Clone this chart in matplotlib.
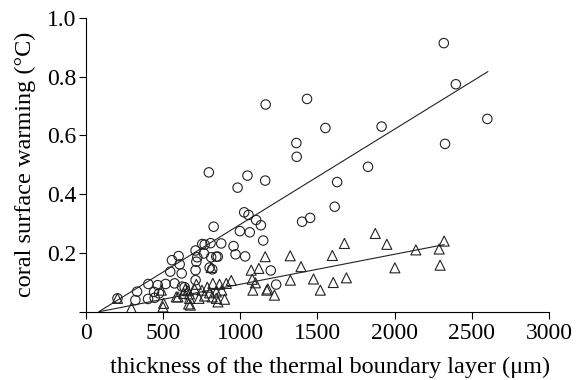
import numpy as np
import matplotlib
matplotlib.use("Agg")
import matplotlib.pyplot as plt

plt.rcParams["font.family"] = ["Liberation Serif", "DejaVu Serif"]

# open circles
circ_x = [205, 321, 332, 403, 405, 442, 446, 466, 474, 517, 547, 558, 575, 601,
          608, 621, 623, 640, 711, 711, 711, 716, 722, 754, 770, 765, 797, 808,
          812, 802, 819, 828, 845, 855, 877, 957, 970, 983, 998, 1032, 1026,
          1047, 1054, 1062, 1103, 1134, 1149, 1162, 1165, 1198, 1233, 1364,
          1366, 1401, 1433, 1453, 1552, 1612, 1628, 1828, 1916, 2319, 2327,
          2397, 2601]
circ_y = [0.045, 0.039, 0.068, 0.043, 0.094, 0.067, 0.047, 0.090, 0.062, 0.094,
          0.136, 0.175, 0.096, 0.189, 0.161, 0.130, 0.085, 0.083, 0.141, 0.107,
          0.208, 0.170, 0.185, 0.230, 0.228, 0.198, 0.474, 0.233, 0.185, 0.150,
          0.144, 0.289, 0.187, 0.187, 0.232, 0.223, 0.195, 0.422, 0.274, 0.188,
          0.338, 0.463, 0.329, 0.270, 0.312, 0.294, 0.242, 0.446, 0.705, 0.140,
          0.092, 0.574, 0.527, 0.306, 0.724, 0.319, 0.625, 0.357, 0.441, 0.493,
          0.630, 0.914, 0.571, 0.774, 0.656]

# open triangles
tri_x = [205, 295, 500, 504, 489, 586, 597, 634, 644, 662, 666, 672, 672, 677,
         705, 716, 733, 752, 769, 787, 802, 812, 819, 823, 845, 845, 856, 866,
         881, 899, 910, 942, 1071, 1078, 1082, 1099, 1121, 1162, 1172, 1179,
         1222, 1324, 1325, 1394, 1475, 1519, 1597, 1603, 1675, 1688, 1875,
         1950, 2002, 2138, 2289, 2295, 2321]
tri_y = [0.045, 0.012, 0.016, 0.028, 0.073, 0.050, 0.050, 0.062, 0.076, 0.071,
         0.026, 0.045, 0.060, 0.022, 0.076, 0.093, 0.045, 0.073, 0.053, 0.083,
         0.064, 0.150, 0.050, 0.096, 0.067, 0.045, 0.033, 0.093, 0.073, 0.042,
         0.096, 0.106, 0.141, 0.110, 0.073, 0.098, 0.147, 0.187, 0.073, 0.077,
         0.056, 0.190, 0.107, 0.153, 0.111, 0.073, 0.191, 0.099, 0.232, 0.115,
         0.266, 0.229, 0.149, 0.210, 0.213, 0.158, 0.240]

# fitted lines: slope, intercept, x range
circ_fit = (0.0003243, -0.0276)
circ_fit_range = (85, 2604)
tri_fit = (0.0001022, -0.0092)
tri_fit_range = (90, 2321)

fig = plt.figure(figsize=(5.76, 3.8), dpi=100)
ax = fig.add_axes([0.149, 0.18, 0.804, 0.773])

ax.scatter(circ_x, circ_y, s=46, facecolors="none", edgecolors="#222222",
           linewidths=0.8, marker="o", zorder=3)
ax.scatter(tri_x, tri_y, s=52, facecolors="none", edgecolors="#222222",
           linewidths=0.8, marker="^", zorder=3)

for (m, b), (x0, x1) in [(circ_fit, circ_fit_range), (tri_fit, tri_fit_range)]:
    xs = np.array([x0, x1])
    ax.plot(xs, m * xs + b, color="#222222", lw=0.8, zorder=2)

ax.set_xlim(0, 3000)
ax.set_ylim(0, 1.0)
ax.set_xticks(np.arange(0, 3001, 500))
ax.set_yticks(np.arange(0, 1.01, 0.2))
ax.set_yticklabels([""] + ["%.1f" % v for v in np.arange(0.2, 1.01, 0.2)])

for s in ["top", "right"]:
    ax.spines[s].set_visible(False)
for s in ["left", "bottom"]:
    ax.spines[s].set_linewidth(0.8)
ax.tick_params(direction="out", length=5, width=0.8, labelsize=17, pad=2)
ax.tick_params(axis="x", pad=3)

ax.set_xlabel("thickness of the thermal boundary layer (\u03bcm)", fontsize=17.5)
ax.set_ylabel("coral surface warming (\u00b0C)", fontsize=17.5, labelpad=8)
ax.xaxis.set_label_coords(0.527, -0.155)

fig.savefig("out.png", dpi=100)
